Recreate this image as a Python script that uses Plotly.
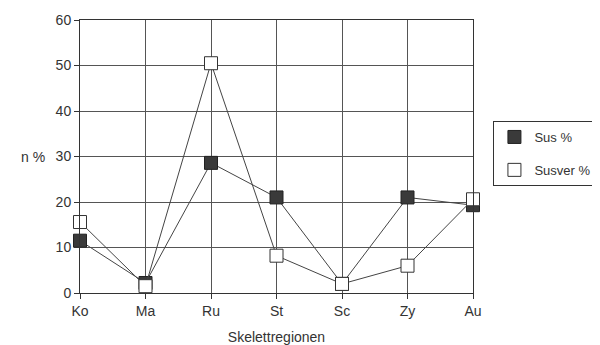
import plotly.graph_objects as go

# Skelettregionen und Anteile in %
regionen = ['Ko', 'Ma', 'Ru', 'St', 'Sc', 'Zy', 'Au']
sus = [11.5, 2.2, 28.6, 21.0, 2.0, 21.0, 19.3]
susver = [15.6, 1.5, 50.5, 8.2, 2.0, 6.0, 20.6]
y_ticks = [0, 10, 20, 30, 40, 50, 60]

font = dict(family='Liberation Sans, Arial, sans-serif', size=14, color='#333')

fig = go.Figure()

# Linien mit Markern (ohne Legende)
fig.add_trace(go.Scatter(
    x=regionen, y=sus, mode='lines+markers', showlegend=False, cliponaxis=False,
    line=dict(color='#444', width=1),
    marker=dict(symbol='square', size=13, color='#3a3a3a', line=dict(color='#222', width=1))
))
fig.add_trace(go.Scatter(
    x=regionen, y=susver, mode='lines+markers', showlegend=False, cliponaxis=False,
    line=dict(color='#444', width=1),
    marker=dict(symbol='square', size=13, color='white', line=dict(color='#333', width=1))
))

# Legendeneinträge nur mit Marker
fig.add_trace(go.Scatter(
    x=[None], y=[None], mode='markers', name='Sus %', legendgroup='a',
    marker=dict(symbol='square', size=13, color='#3a3a3a', line=dict(color='#222', width=1))
))
fig.add_trace(go.Scatter(
    x=[None], y=[None], mode='markers', name='Susver %', legendgroup='b',
    marker=dict(symbol='square', size=13, color='white', line=dict(color='#333', width=1))
))

# die Seite hat 8px Rand, daher 592x337
fig.update_layout(
    width=592, height=337,
    margin=dict(l=72, r=127, t=12, b=52, autoexpand=False),
    paper_bgcolor='white', plot_bgcolor='white',
    font=font,
    legend=dict(
        x=1.052, y=0.63, xanchor='left', yanchor='top',
        bordercolor='#333', borderwidth=1, bgcolor='white',
        tracegroupgap=13, font=dict(size=13, color='#333'),
    ),
    annotations=[dict(
        text='n %', x=-0.084, y=0.5, xref='paper', yref='paper',
        xanchor='right', yanchor='middle', showarrow=False, font=font
    )],
)

fig.update_xaxes(
    range=[0, 6], showgrid=True, gridcolor='#555', gridwidth=1,
    showline=True, linecolor='#333', linewidth=1, mirror=True,
    ticks='outside', ticklen=5, tickcolor='#333',
    title=dict(text='Skelettregionen', standoff=14, font=font),
)
fig.update_yaxes(
    range=[0, 60], tickvals=y_ticks, showgrid=True, gridcolor='#555', gridwidth=1,
    showline=True, linecolor='#333', linewidth=1, mirror=True,
    ticks='outside', ticklen=5, tickcolor='#333', zeroline=False,
)

fig.write_html('out.html')
